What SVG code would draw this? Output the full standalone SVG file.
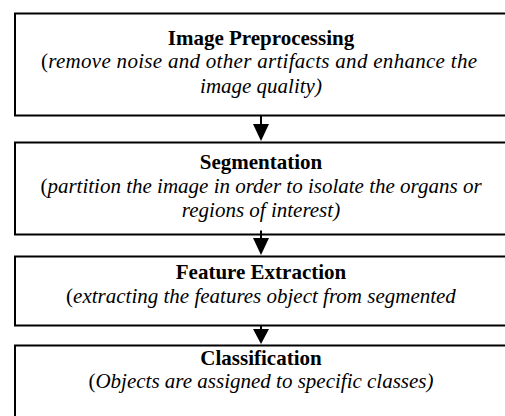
<svg xmlns="http://www.w3.org/2000/svg" width="505" height="416" viewBox="0 0 505 416">
<style>
.box{fill:#fff;stroke:#000;stroke-width:2}
.t{font-family:"Liberation Serif","Times New Roman",serif;font-size:21px;font-weight:bold;text-anchor:middle;fill:#000}
.d{font-family:"Liberation Serif","Times New Roman",serif;font-size:21px;font-style:italic;text-anchor:middle;fill:#000}
.u{font-style:normal}
.stem{stroke:#000;stroke-width:2}
.head{fill:#000}
</style>
<rect width="505" height="416" fill="#fff"/>
<g id="n1">
<rect class="box" x="15" y="13.5" width="500" height="102"/>
<text class="t" x="261" y="45">Image Preprocessing</text>
<text class="d" x="259" y="68" textLength="436" lengthAdjust="spacing"><tspan class="u">(</tspan>remove noise and other artifacts and enhance the</text>
<text class="d" x="261" y="93">image quality)</text>
</g>
<g id="n2">
<rect class="box" x="15" y="142.5" width="500" height="92"/>
<text class="t" x="261" y="169">Segmentation</text>
<text class="d" x="261" y="193"><tspan class="u">(</tspan>partition the image in order to isolate the organs or</text>
<text class="d" x="261" y="217">regions of interest)</text>
</g>
<g id="n3">
<rect class="box" x="15" y="256.5" width="500" height="69"/>
<text class="t" x="261" y="279">Feature Extraction</text>
<text class="d" x="261" y="303"><tspan class="u">(</tspan>extracting the features object from segmented</text>
</g>
<g id="n4">
<rect class="box" x="15" y="345.5" width="500" height="80"/>
<text class="t" x="261" y="365">Classification</text>
<text class="d" x="261" y="388"><tspan class="u">(</tspan>Objects are assigned to specific classes)</text>
</g>
<g id="connectors">
<line class="stem" x1="261" y1="115.5" x2="261" y2="126"/>
<polygon class="head" points="253,124 269,124 261,141"/>
<line class="stem" x1="261" y1="230.5" x2="261" y2="240"/>
<polygon class="head" points="253,238 269,238 261,255"/>
<line class="stem" x1="261" y1="325.5" x2="261" y2="331"/>
<polygon class="head" points="253,329 269,329 261,344"/>
</g>
</svg>
